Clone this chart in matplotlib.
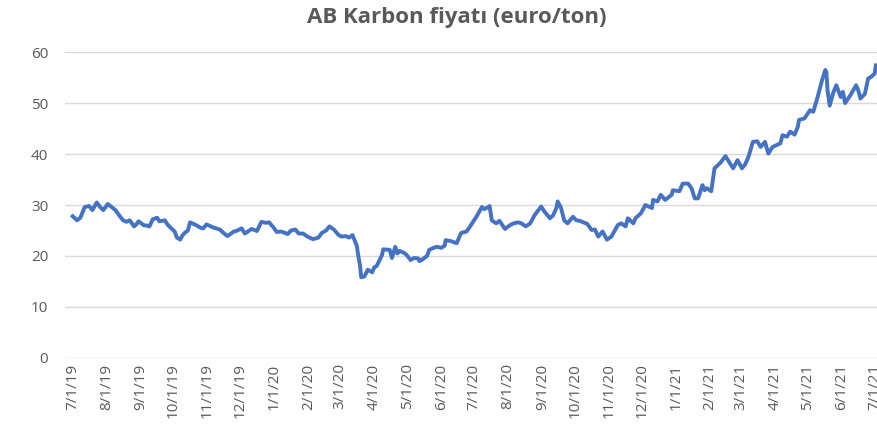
import pandas as pd
import matplotlib
matplotlib.use("Agg")
import matplotlib.pyplot as plt

# EU carbon price (euro/ton)
dates = [
    "2019-07-01", "2019-07-05", "2019-07-08", "2019-07-12", "2019-07-16", "2019-07-19",
    "2019-07-23", "2019-07-26", "2019-07-29", "2019-08-02", "2019-08-06", "2019-08-09",
    "2019-08-13", "2019-08-16", "2019-08-19", "2019-08-22", "2019-08-26", "2019-08-28",
    "2019-08-30", "2019-09-04", "2019-09-06", "2019-09-09", "2019-09-12", "2019-09-16",
    "2019-09-18", "2019-09-23", "2019-09-25", "2019-09-27", "2019-10-02", "2019-10-04",
    "2019-10-07", "2019-10-09", "2019-10-11", "2019-10-14", "2019-10-16", "2019-10-18",
    "2019-10-22", "2019-10-25", "2019-10-28", "2019-10-31", "2019-11-04", "2019-11-06",
    "2019-11-12", "2019-11-15", "2019-11-19", "2019-11-25", "2019-11-27", "2019-12-02",
    "2019-12-05", "2019-12-09", "2019-12-11", "2019-12-16", "2019-12-20", "2019-12-24",
    "2019-12-27", "2019-12-31", "2020-01-03", "2020-01-07", "2020-01-13", "2020-01-16",
    "2020-01-20", "2020-01-23", "2020-01-27", "2020-01-31", "2020-02-05", "2020-02-10",
    "2020-02-13", "2020-02-17", "2020-02-20", "2020-02-24", "2020-02-28", "2020-03-02",
    "2020-03-06", "2020-03-09", "2020-03-12", "2020-03-16", "2020-03-17", "2020-03-19",
    "2020-03-20", "2020-03-23", "2020-03-26", "2020-03-30", "2020-04-01", "2020-04-03",
    "2020-04-08", "2020-04-09", "2020-04-15", "2020-04-17", "2020-04-20", "2020-04-22",
    "2020-04-24", "2020-04-28", "2020-04-30", "2020-05-04", "2020-05-07", "2020-05-11",
    "2020-05-12", "2020-05-14", "2020-05-19", "2020-05-21", "2020-05-25", "2020-05-28",
    "2020-06-01", "2020-06-04", "2020-06-05", "2020-06-10", "2020-06-15", "2020-06-19",
    "2020-06-24", "2020-06-26", "2020-06-30", "2020-07-03", "2020-07-08", "2020-07-10",
    "2020-07-13", "2020-07-15", "2020-07-17", "2020-07-21", "2020-07-24", "2020-07-29",
    "2020-08-03", "2020-08-06", "2020-08-10", "2020-08-13", "2020-08-17", "2020-08-21",
    "2020-08-25", "2020-08-31", "2020-09-03", "2020-09-08", "2020-09-11", "2020-09-14",
    "2020-09-15", "2020-09-18", "2020-09-21", "2020-09-24", "2020-09-29", "2020-10-02",
    "2020-10-05", "2020-10-12", "2020-10-16", "2020-10-19", "2020-10-22", "2020-10-26",
    "2020-10-30", "2020-11-03", "2020-11-09", "2020-11-12", "2020-11-16", "2020-11-18",
    "2020-11-23", "2020-11-25", "2020-11-30", "2020-12-02", "2020-12-04", "2020-12-10",
    "2020-12-11", "2020-12-15", "2020-12-18", "2020-12-22", "2020-12-28", "2020-12-29",
    "2021-01-04", "2021-01-07", "2021-01-12", "2021-01-15", "2021-01-18", "2021-01-21",
    "2021-01-25", "2021-01-27", "2021-01-29", "2021-02-02", "2021-02-05", "2021-02-10",
    "2021-02-15", "2021-02-19", "2021-02-22", "2021-02-26", "2021-03-02", "2021-03-05",
    "2021-03-08", "2021-03-12", "2021-03-16", "2021-03-19", "2021-03-23", "2021-03-26",
    "2021-03-30", "2021-04-06", "2021-04-08", "2021-04-12", "2021-04-15", "2021-04-19",
    "2021-04-22", "2021-04-23", "2021-04-28", "2021-05-03", "2021-05-06", "2021-05-10",
    "2021-05-14", "2021-05-17", "2021-05-18", "2021-05-19", "2021-05-21", "2021-05-24",
    "2021-05-27", "2021-05-31", "2021-06-02", "2021-06-04", "2021-06-09", "2021-06-14",
    "2021-06-16", "2021-06-18", "2021-06-22", "2021-06-25", "2021-06-28", "2021-07-01",
    "2021-07-02",
]
prices = [
    27.8, 27.0, 27.5, 29.6, 29.8, 29.0,
    30.5, 29.6, 29.0, 30.2, 29.5, 29.0,
    27.8, 27.0, 26.7, 27.0, 25.8, 26.2,
    26.8, 26.0, 26.0, 25.8, 27.2, 27.5,
    26.8, 27.0, 26.3, 25.8, 24.8, 23.6,
    23.2, 24.0, 24.5, 25.0, 26.6, 26.4,
    26.0, 25.6, 25.4, 26.2, 25.8, 25.6,
    25.2, 24.6, 23.9, 24.8, 24.9, 25.4,
    24.4, 25.0, 25.3, 24.9, 26.7, 26.5,
    26.6, 25.6, 24.7, 24.8, 24.3, 25.0,
    25.2, 24.4, 24.4, 23.8, 23.3, 23.6,
    24.5, 25.0, 25.8, 25.2, 24.2, 23.8,
    23.9, 23.6, 24.1, 22.0, 20.5, 18.0,
    15.8, 16.0, 17.3, 16.8, 17.8, 18.0,
    20.2, 21.3, 21.2, 19.6, 21.8, 20.5,
    21.0, 20.6, 20.3, 19.2, 19.6, 19.5,
    19.0, 19.2, 20.0, 21.2, 21.6, 21.8,
    21.6, 22.0, 23.1, 22.9, 22.5, 24.5,
    24.8, 25.4, 26.7, 27.7, 29.6, 29.2,
    29.5, 29.8, 27.0, 26.4, 26.9, 25.3,
    26.1, 26.4, 26.6, 26.4, 25.8, 26.4,
    28.0, 29.7, 28.7, 27.4, 28.0, 29.5,
    30.7, 29.5, 27.0, 26.4, 27.7, 27.0,
    26.9, 26.3, 25.1, 25.2, 23.8, 24.8,
    23.2, 23.8, 26.1, 26.4, 25.8, 27.4,
    26.4, 27.4, 28.4, 29.2, 30.0, 29.4,
    31.0, 30.7, 32.0, 31.0, 32.0, 32.9,
    32.7, 34.2, 34.2, 33.3, 31.3, 31.3,
    33.9, 32.9, 33.3, 32.7, 37.2, 38.2,
    39.6, 38.2, 37.2, 38.8, 37.2, 38.0,
    39.5, 42.4, 42.5, 41.4, 42.4, 40.1,
    41.4, 42.1, 43.7, 43.4, 44.4, 43.8,
    45.4, 46.7, 47.0, 48.6, 48.3, 51.2,
    54.5, 56.5, 56.0, 52.5, 49.5, 51.9,
    53.5, 51.2, 52.2, 50.0, 51.6, 53.5,
    52.5, 50.9, 51.8, 54.8, 55.2, 55.8,
    57.4,
]
y_ticks = [0, 10, 20, 30, 40, 50, 60]
title = "AB Karbon fiyatı (euro/ton)"

text_grey = "#595959"
plt.rcParams["font.family"] = ["Open Sans", "DejaVu Sans"]

df = pd.DataFrame({"date": pd.to_datetime(dates), "price": prices})
tick_dates = pd.date_range("2019-07-01", "2021-07-01", freq="MS")
tick_labels = [f"{d.month}/{d.day}/{d.year % 100}" for d in tick_dates]

fig = plt.figure(figsize=(8.78, 4.24), dpi=100)
ax = fig.add_axes([0.074, 0.156, 0.926, 0.721])

ax.plot(df["date"], df["price"], color="#4472C4", linewidth=2.8,
        solid_joinstyle="round", zorder=3)

ax.set_ylim(0, 60)
ax.set_yticks(y_ticks)
ax.set_xlim(pd.Timestamp("2019-06-24"), pd.Timestamp("2021-07-04"))
ax.set_xticks(tick_dates)
ax.set_xticklabels(tick_labels, rotation=90)

ax.grid(axis="y", color="#D9D9D9", linewidth=1)
ax.set_axisbelow(True)
for s in ax.spines.values():
    s.set_visible(False)
ax.tick_params(length=0, colors=text_grey, labelsize=11)
ax.tick_params(axis="y", pad=12)
ax.tick_params(axis="x", pad=4)

fig.text(0.52, 0.958, title, ha="center", va="center", fontsize=16,
         fontweight="bold", color=text_grey)

fig.savefig("out.png", dpi=100)
